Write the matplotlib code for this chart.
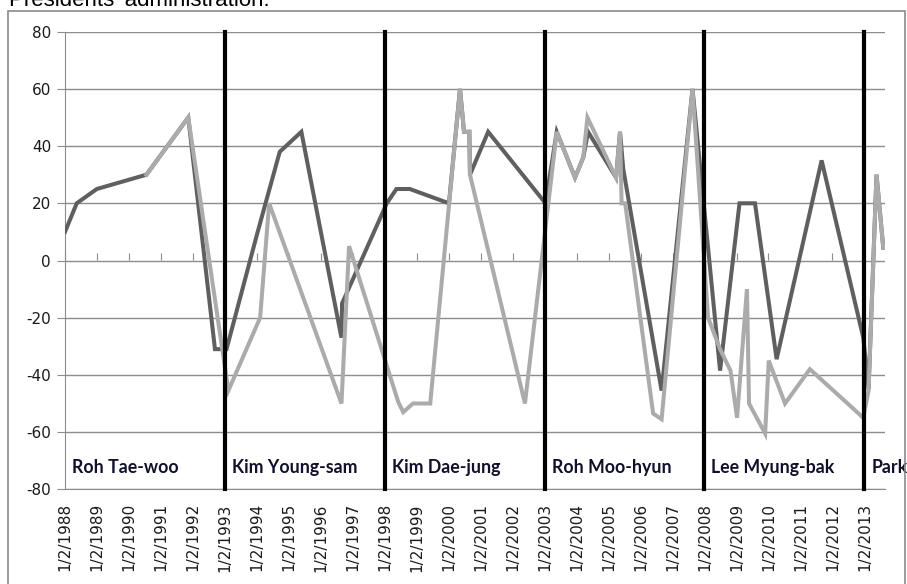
import numpy as np
import pandas as pd
import matplotlib
matplotlib.use("Agg")
import matplotlib.pyplot as plt
from matplotlib.patches import Rectangle

plt.rcParams["axes.unicode_minus"] = False

# dark gray series
dates_a = ["1988-01-02", "1988-05-15", "1988-12-30", "1990-07-20", "1991-11-10",
           "1992-09-10", "1993-01-20", "1994-01-02", "1994-09-20", "1995-05-25",
           "1996-08-25", "1996-09-01", "1998-01-25", "1998-05-15", "1998-10-15",
           "2000-01-05", "2000-05-10", "2000-06-25", "2000-08-25", "2000-09-01",
           "2001-03-28", "2003-01-12", "2003-05-20", "2003-12-15", "2004-03-18",
           "2004-05-12", "2005-03-28", "2005-05-12", "2005-06-18", "2006-08-30",
           "2007-08-18", "2008-06-28", "2009-02-05", "2009-08-01", "2010-04-05",
           "2011-09-01", "2012-12-20", "2013-02-18", "2013-05-20", "2013-08-05"]
values_a = [10, 20, 25, 30, 50,
            -31, -31, 9, 38, 45,
            -27, -15, 20, 25, 25,
            20, 60, 45, 45, 30,
            45, 20, 45, 29, 36,
            45, 29, 45, 32, -45.5,
            60, -38.5, 20, 20, -34.5,
            35, -27, -45, 30, 4.5]

# light gray series
dates_b = ["1990-07-20", "1991-11-10", "1993-02-10", "1994-02-08", "1994-05-22",
           "1996-08-25", "1996-11-20", "1998-06-05", "1998-08-01", "1998-11-20",
           "1999-06-05", "2000-05-10", "2000-06-25", "2000-08-25", "2000-09-01",
           "2002-05-22", "2003-05-20", "2003-12-15", "2004-03-18", "2004-05-05",
           "2005-03-28", "2005-05-12", "2005-05-30", "2005-07-10", "2006-05-25",
           "2006-08-30", "2007-08-18", "2008-02-12", "2008-06-28", "2008-10-25",
           "2009-01-08", "2009-05-01", "2009-05-25", "2009-11-25", "2010-01-05",
           "2010-07-10", "2011-04-20", "2012-12-20", "2013-02-18", "2013-05-20",
           "2013-08-05"]
values_b = [30, 50, -45.5, -20, 20,
            -50, 5, -49.5, -53, -50,
            -50, 60, 45, 45, 30,
            -50, 45, 29, 36, 50,
            29, 45, 20, 20, -53.5,
            -55.5, 60, -20, -31, -38.5,
            -55, -10, -50, -60.5, -35,
            -50, -38, -55, -45.5, 30,
            4.5]

presidents = ["Roh Tae-woo", "Kim Young-sam", "Kim Dae-jung", "Roh Moo-hyun",
              "Lee Myung-bak", "Park"]
term_starts = ["1988-01-02", "1993-01-02", "1998-01-02", "2003-01-02",
               "2008-01-02", "2013-01-02"]
years = list(range(1988, 2014))

xa = pd.to_datetime(dates_a)
xb = pd.to_datetime(dates_b)
starts = pd.to_datetime(term_starts)
ticks = pd.to_datetime([f"{y}-01-02" for y in years])
tick_labels = [f"1/2/{y}" for y in years]

fig = plt.figure(figsize=(9.07, 5.84), dpi=100)
ax = fig.add_axes([65 / 907, 1 - 489.3 / 584, 820 / 907, (489.3 - 31.7) / 584])

# chart border and (clipped) title
fig.patches.append(Rectangle((8 / 907, -0.1), 897 / 907, 1.1 - 10.7 / 584,
                             transform=fig.transFigure, fill=False,
                             edgecolor="#8a8a8a", lw=1.2))
fig.text(9 / 907, 1 - 5.5 / 584, "Presidents' administration.", fontsize=16,
         family="Liberation Sans", va="baseline", ha="left", color="black")

ax.plot(xa, values_a, color="#5f5f5f", lw=2.9, solid_joinstyle="miter", zorder=3)
ax.plot(xb, values_b, color="#ababab", lw=2.9, solid_joinstyle="miter", zorder=4)

for d in starts[1:]:
    ax.plot([d, d], [-80, 80], color="black", lw=3, zorder=5, clip_on=False)

for name, d in zip(presidents, starts):
    ax.annotate(name, (d, -72.5), xytext=(5, 0), textcoords="offset points",
                fontsize=12.8, fontweight="bold", family="Lato", color="#10102a",
                va="center", ha="left", annotation_clip=False, zorder=6)

ax.set_ylim(-80, 80)
ax.set_xlim(pd.Timestamp("1988-01-02"), pd.Timestamp("2013-08-25"))
ax.set_yticks(np.arange(-80, 81, 20))
ax.yaxis.grid(True, color="#8c8c8c", lw=1)
ax.set_axisbelow(True)

ax.set_xticks(ticks)
ax.set_xticklabels(tick_labels, rotation=90, fontsize=11, color="#1a1a1a")
ax.tick_params(axis="x", length=0, pad=10)
ax.tick_params(axis="y", direction="out", length=6, color="#8c8c8c",
               labelsize=11, labelcolor="#1a1a1a", pad=4)

for s in ["top", "right"]:
    ax.spines[s].set_visible(False)
ax.spines["left"].set_color("#8c8c8c")
ax.spines["bottom"].set_color("#8c8c8c")

# category axis crossing at zero, with its tick marks only
sec = ax.secondary_xaxis(0.5)
sec.set_xticks(ticks)
sec.set_xticklabels([""] * len(ticks))
sec.tick_params(axis="x", direction="out", length=5, color="#8c8c8c")
for s in sec.spines.values():
    s.set_visible(False)

fig.savefig("out.png", dpi=100)
